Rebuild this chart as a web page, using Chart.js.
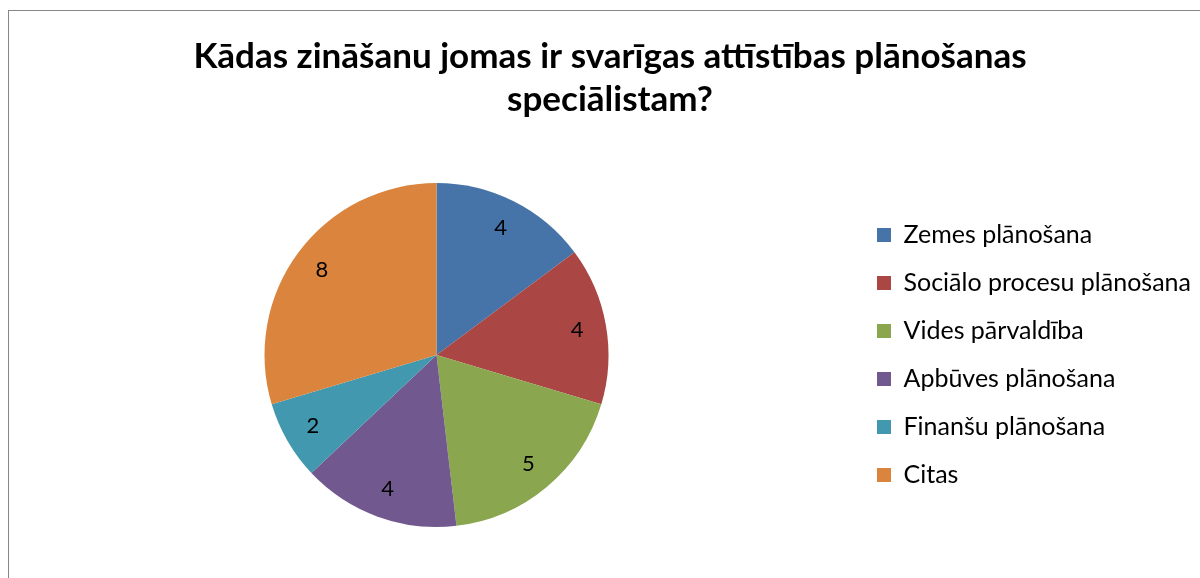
<!DOCTYPE html>
<html>
<head>
<meta charset="utf-8">
<script src="https://cdn.jsdelivr.net/npm/chart.js@4"></script>
<style>
  html, body { margin: 0; padding: 0; background: #fff; overflow: hidden; width: 1200px; height: 578px; }
  #wrap { position: absolute; left: 8px; top: 10px; width: 1202px; height: 567px;
          border-left: 1px solid #878787; border-top: 1px solid #878787; }
  canvas { display: block; }
</style>
</head>
<body>
<div id="wrap"><canvas id="c" width="1202" height="567"></canvas></div>
<script>
const titleLines = ["Kādas zināšanu jomas ir svarīgas attīstības plānošanas", "speciālistam?"];
const categories = ["Zemes plānošana", "Sociālo procesu plānošana", "Vides pārvaldība", "Apbūves plānošana", "Finanšu plānošana", "Citas"];
const values = [4, 4, 5, 4, 2, 8];
const colors = ["#4674A9", "#AA4744", "#8AA64F", "#71588F", "#4298AF", "#DA843D"];

const FONT = "Lato";
const legendFontSize = 25;
const boxW = 14;

// measure widest legend text to place legend column
const mctx = document.createElement('canvas').getContext('2d');
mctx.font = legendFontSize + "px " + FONT;
let maxText = 0;
categories.forEach(c => { maxText = Math.max(maxText, mctx.measureText(c).width); });
const legendItemX = 878; // target for legend column
const padRight = 1202 - (legendItemX + boxW + legendFontSize / 2 + maxText);

const labelPlugin = {
  id: 'sliceLabels',
  afterDatasetsDraw(chart) {
    const ctx = chart.ctx;
    const meta = chart.getDatasetMeta(0);
    ctx.save();
    ctx.fillStyle = '#000';
    ctx.font = "22px " + FONT;
    ctx.textAlign = 'center';
    ctx.textBaseline = 'middle';
    meta.data.forEach((arc, i) => {
      const p = arc.getProps(['x', 'y', 'startAngle', 'endAngle', 'outerRadius'], true);
      const mid = (p.startAngle + p.endAngle) / 2;
      const r = p.outerRadius * 0.83;
      ctx.fillText(String(chart.data.datasets[0].data[i]), p.x + Math.cos(mid) * r, p.y + Math.sin(mid) * r);
    });
    ctx.restore();
  }
};

new Chart(document.getElementById('c'), {
  type: 'pie',
  data: {
    labels: categories,
    datasets: [{
      data: values,
      backgroundColor: colors,
      borderWidth: 0,
      hoverBorderWidth: 0,
      hoverOffset: 0
    }]
  },
  options: {
    responsive: false,
    animation: false,
    events: [],
    layout: { padding: { top: 0, left: 10, right: padRight, bottom: 51 } },
    plugins: {
      title: {
        display: true,
        text: titleLines,
        color: '#000',
        font: { family: FONT, size: 35, weight: 'bold', lineHeight: 43 / 35 },
        padding: { top: 24.5, bottom: 61.5 }
      },
      legend: {
        display: true,
        position: 'right',
        fullSize: false,
        labels: {
          color: '#000',
          font: { family: FONT, size: legendFontSize },
          boxWidth: boxW,
          boxHeight: boxW,
          padding: 23
        }
      },
      tooltip: { enabled: false }
    }
  },
  plugins: [labelPlugin]
});
</script>
</body>
</html>
